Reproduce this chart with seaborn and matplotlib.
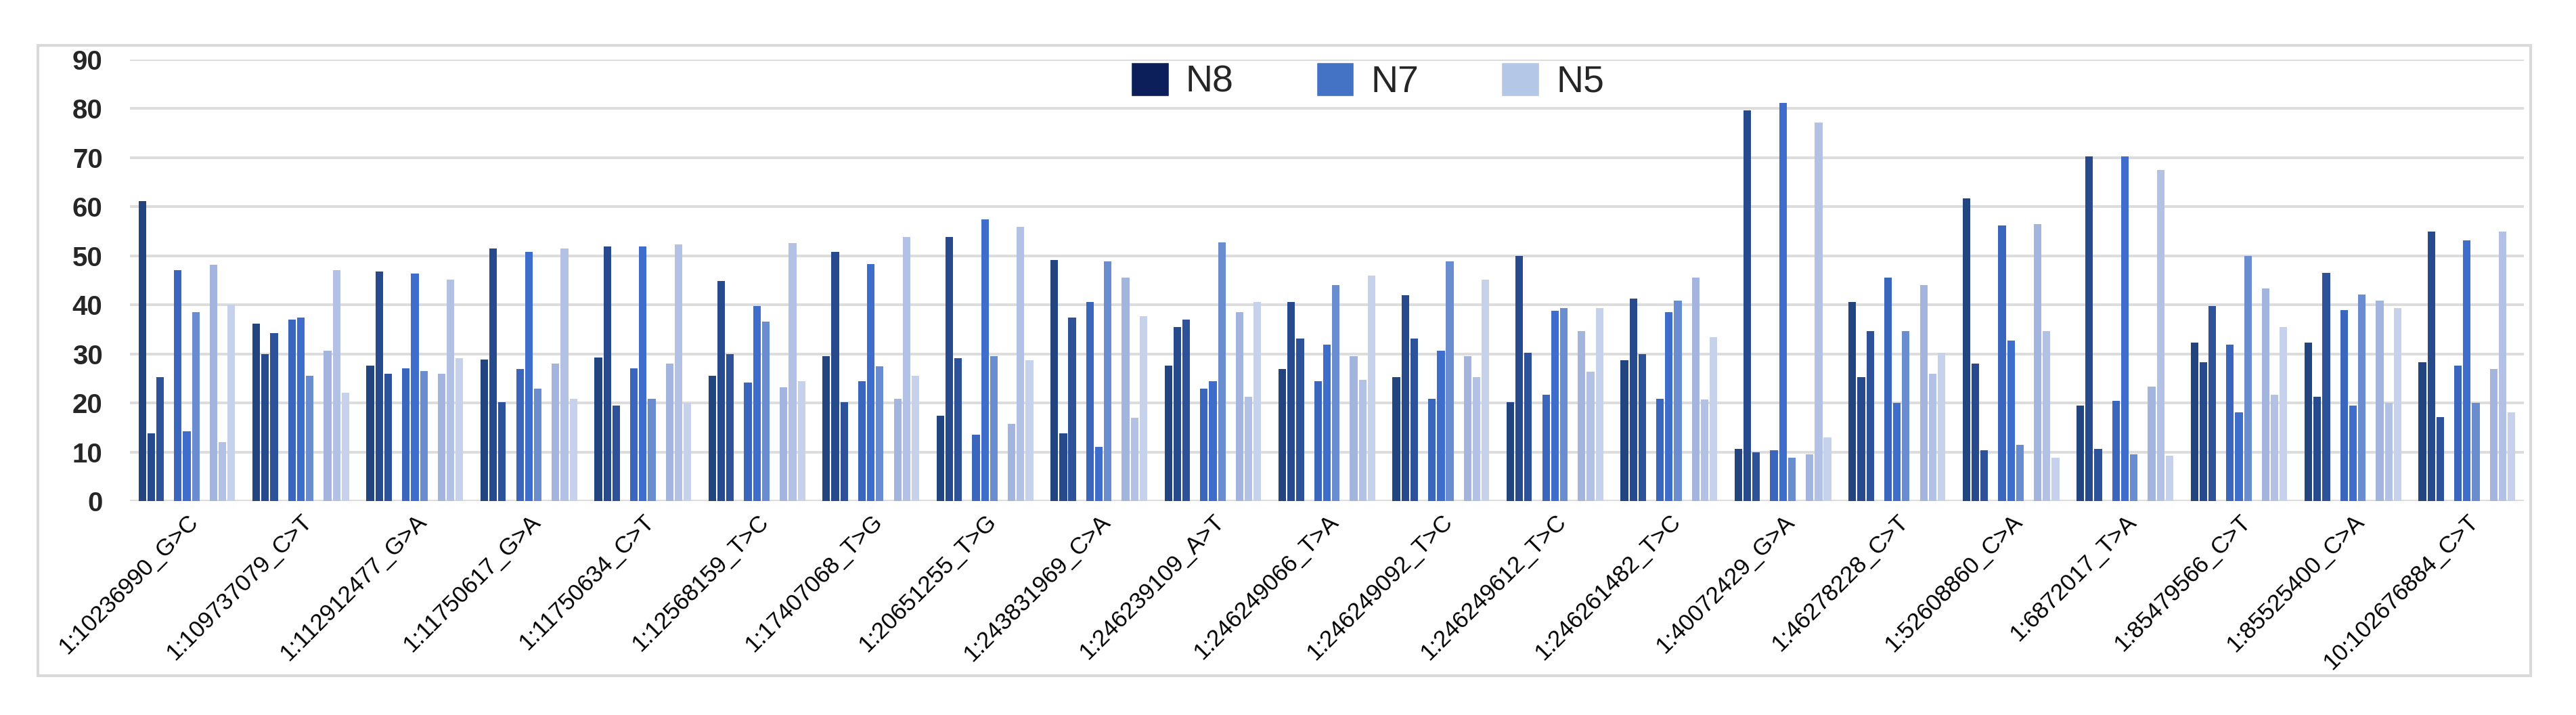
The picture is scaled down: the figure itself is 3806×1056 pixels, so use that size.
import pandas as pd
import seaborn as sns
import matplotlib.pyplot as plt
from matplotlib.patches import Patch, Rectangle

# variant labels on the x axis
categories = [
    "1:10236990_G>C", "1:109737079_C>T", "1:112912477_G>A", "1:11750617_G>A",
    "1:11750634_C>T", "1:12568159_T>C", "1:17407068_T>G", "1:20651255_T>G",
    "1:243831969_C>A", "1:246239109_A>T", "1:246249066_T>A", "1:246249092_T>C",
    "1:246249612_T>C", "1:246261482_T>C", "1:40072429_G>A", "1:46278228_C>T",
    "1:52608860_C>A", "1:6872017_T>A", "1:85479566_C>T", "1:85525400_C>A",
    "10:102676884_C>T",
]

# three bars per sample and variant
n8 = [[61.2, 13.8, 25.3], [36.1, 30.0, 34.2], [27.6, 46.8, 26.0], [28.8, 51.5, 20.1],
      [29.2, 51.9, 19.4], [25.6, 44.8, 30.0], [29.6, 50.8, 20.1], [17.4, 53.9, 29.1],
      [49.2, 13.8, 37.4], [27.6, 35.5, 37.0], [26.9, 40.6, 33.1], [25.2, 42.0, 33.1],
      [20.1, 50.0, 30.3], [28.7, 41.3, 29.9], [10.7, 79.6, 10.0], [40.6, 25.2, 34.7],
      [61.7, 28.0, 10.3], [19.4, 70.2, 10.7], [32.3, 28.3, 39.8], [32.3, 21.3, 46.5],
      [28.3, 55.0, 17.1]]
n7 = [[47.1, 14.2, 38.5], [37.0, 37.4, 25.6], [27.1, 46.4, 26.5], [26.9, 50.8, 22.9],
      [27.1, 51.9, 20.9], [24.1, 39.8, 36.6], [24.4, 48.3, 27.5], [13.5, 57.4, 29.6],
      [40.6, 11.1, 48.8], [22.9, 24.4, 52.7], [24.4, 31.9, 44.0], [20.9, 30.7, 48.8],
      [21.7, 38.8, 39.3], [20.9, 38.5, 40.9], [10.3, 81.1, 8.8], [45.6, 20.0, 34.7],
      [56.2, 32.7, 11.5], [20.5, 70.2, 9.5], [31.9, 18.1, 50.0], [38.9, 19.4, 42.1],
      [27.6, 53.1, 20.0]]
n5 = [[48.2, 12.0, 40.0], [30.7, 47.1, 22.1], [26.0, 45.2, 29.1], [28.0, 51.5, 20.9],
      [28.0, 52.3, 20.0], [23.2, 52.6, 24.4], [20.9, 53.9, 25.6], [15.8, 55.9, 28.7],
      [45.6, 17.0, 37.7], [38.5, 21.3, 40.6], [29.5, 24.7, 45.9], [29.5, 25.2, 45.1],
      [34.6, 26.4, 39.3], [45.6, 20.7, 33.4], [9.5, 77.1, 13.0], [44.0, 26.0, 30.3],
      [56.5, 34.7, 8.8], [23.3, 67.5, 9.2], [43.3, 21.7, 35.5], [40.9, 20.0, 39.4],
      [26.9, 55.0, 18.1]]

samples = {"N8": n8, "N7": n7, "N5": n5}
bar_colors = {
    "N8": ["#22457f", "#264a8c", "#2d5299"],
    "N7": ["#3b66bd", "#3e6dcc", "#6a8dd0"],
    "N5": ["#a3b5df", "#b2c1e4", "#c6d1ec"],
}
legend_colors = {"N8": "#0c1f5b", "N7": "#4472c4", "N5": "#b4c7e7"}

rows = []
for i, cat in enumerate(categories):
    for name, vals in samples.items():
        for j, v in enumerate(vals[i]):
            rows.append({"variant": cat, "group": f"{name} {j + 1}", "value": v})
df = pd.DataFrame(rows)

# empty hue levels leave the gaps between the three samples
hue_order = ["N8 1", "N8 2", "N8 3", "gap1", "N7 1", "N7 2", "N7 3", "gap2", "N5 1", "N5 2", "N5 3"]
palette = {"gap1": "white", "gap2": "white"}
for name, cols in bar_colors.items():
    for j, c in enumerate(cols):
        palette[f"{name} {j + 1}"] = c

sns.set_theme(style="white")
plt.rcParams["font.family"] = ["Liberation Sans Narrow", "Liberation Sans", "DejaVu Sans"]

fig = plt.figure(figsize=(38.06, 10.56), dpi=100)
ax = fig.add_axes([0.0504, 0.2992, 0.9294, 0.6175])

sns.barplot(data=df, x="variant", y="value", hue="group", order=categories,
            hue_order=hue_order, palette=palette, width=0.86, gap=0.15,
            saturation=1, linewidth=0, legend=False, ax=ax)

ax.set_ylim(0, 90)
ax.set_xlim(-0.5, len(categories) - 0.5)
ax.set_yticks(range(0, 91, 10))
ax.yaxis.grid(True, color="#dcdcdc", linewidth=2.8)
ax.set_axisbelow(True)
for s in ax.spines.values():
    s.set_visible(False)
ax.set_xlabel("")
ax.set_ylabel("")
ax.tick_params(axis="y", length=0, pad=29, labelsize=29)
for lab in ax.get_yticklabels():
    lab.set_fontweight("bold")
ax.tick_params(axis="x", length=0, pad=10)
ax.set_xticks(range(len(categories)))
ax.set_xticklabels(categories, rotation=45, ha="right", rotation_mode="anchor",
                   fontsize=25, color="black")

handles = [Patch(facecolor=legend_colors[k], label=k) for k in samples]
ax.legend(handles=handles, loc="center", bbox_to_anchor=(0.517, 0.951), ncol=3,
          frameon=False, fontsize=40, handlelength=1.0, handleheight=1.0,
          handletextpad=0.45, columnspacing=2.2)

# light frame around the chart area
fig.add_artist(Rectangle((56 / 3806, 1 - 998 / 1056), (3739 - 56) / 3806, (998 - 67) / 1056,
                         transform=fig.transFigure, fill=False, edgecolor="#d9d9d9", linewidth=3))

plt.savefig("out.png", dpi=100)
